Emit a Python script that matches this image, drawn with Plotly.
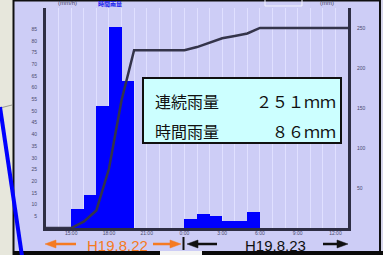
import plotly.graph_objects as go

W, H = 383, 255

# ---- data ----
time_labels = ["13:00", "14:00", "15:00", "16:00", "17:00", "18:00", "19:00", "20:00",
               "21:00", "22:00", "23:00", "0:00", "1:00", "2:00", "3:00", "4:00",
               "5:00", "6:00", "7:00", "8:00", "9:00", "10:00", "11:00", "12:00"]
hourly_rain = [0, 0, 8, 14, 52, 86, 63, 0, 0, 0, 0, 4, 6, 5, 3, 3, 7, 0, 0, 0, 0, 0, 0, 0]
boundary_labels = time_labels + ["13:00"]
cumulative_rain = [0, 0, 0, 8, 22, 74, 160, 223, 223, 223, 223, 223, 227, 233, 238, 241,
                   244, 251, 251, 251, 251, 251, 251, 251, 251]
x_tick_text = ["15:00", "18:00", "21:00", "0:00", "3:00", "6:00", "9:00", "12:00"]
left_ticks = [5, 10, 15, 20, 25, 30, 35, 40, 45, 50, 55, 60, 65, 70, 75, 80, 85]
right_ticks = [50, 100, 150, 200, 250]
total_text = "２５１ｍｍ"
max_text = "８６ｍｍ"
date1 = "H19.8.22"
date2 = "H19.8.23"


def X(px):
    return px / W


def Y(py):
    return 1 - py / H


bar_x = [time_labels.index(t) + 0.5 for t in time_labels]
line_x = list(range(len(boundary_labels)))
tick_vals = [boundary_labels.index(t) for t in x_tick_text]

fig = go.Figure()
fig.add_trace(go.Bar(x=bar_x, y=hourly_rain, width=1, marker=dict(color="#0000ff", line=dict(width=0)),
                     yaxis="y", showlegend=False, hoverinfo="skip"))
fig.add_trace(go.Scatter(x=line_x, y=cumulative_rain, mode="lines", yaxis="y2",
                         line=dict(color="#34344a", width=2.5), showlegend=False, hoverinfo="skip"))

panel = "#cdcdf6"
axis_col = "#2e2e44"
lab_col = "#4a4a6e"

fig.update_layout(
    width=W, height=H, margin=dict(l=0, r=0, t=0, b=0, autoexpand=False),
    paper_bgcolor=panel, plot_bgcolor=panel, bargap=0,
    xaxis=dict(domain=[X(46), X(348)], range=[0, 24], tickmode="array", tickvals=tick_vals,
               ticktext=x_tick_text, tickfont=dict(size=5, color=lab_col, family="Liberation Sans"),
               showline=True, linecolor=axis_col, linewidth=3, showgrid=True, gridcolor="#e0e0ff",
               gridwidth=1, zeroline=False, ticks="", automargin=False, ticklabelstandoff=-2,
               minor=dict(tickmode="linear", tick0=0, dtick=1, showgrid=True, gridcolor="#e0e0ff",
                          gridwidth=1)),
    yaxis=dict(domain=[Y(228), Y(8)], range=[0, 94], tickmode="array", tickvals=left_ticks,
               tickfont=dict(size=5, color=lab_col, family="Liberation Sans"), showline=True,
               linecolor=axis_col, linewidth=3, showgrid=False, zeroline=False, ticks="",
               ticklabelstandoff=5, automargin=False),
    yaxis2=dict(range=[0, 276], overlaying="y", side="right", anchor="x", tickmode="array",
                tickvals=right_ticks, tickfont=dict(size=5, color=lab_col, family="Liberation Sans"),
                showline=True, linecolor=axis_col, linewidth=3, showgrid=False, zeroline=False,
                ticks="", ticklabelstandoff=5, automargin=False),
)

shapes = []
# left map strip
shapes.append(dict(type="rect", xref="paper", yref="paper", x0=X(0), x1=X(13), y0=Y(255), y1=Y(0),
                   fillcolor="#e7e7dc", line=dict(width=0), layer="below"))
shapes.append(dict(type="line", xref="paper", yref="paper", x0=X(0), x1=X(12), y0=Y(108), y1=Y(105),
                   line=dict(color="#9a9a90", width=1)))
shapes.append(dict(type="line", xref="paper", yref="paper", x0=X(13.5), x1=X(13.5), y0=Y(0), y1=Y(255),
                   line=dict(color="#101010", width=2)))
# top and right borders
shapes.append(dict(type="line", xref="paper", yref="paper", x0=X(13), x1=X(381), y0=Y(0.7), y1=Y(0.7),
                   line=dict(color="#101010", width=1.5)))
shapes.append(dict(type="line", xref="paper", yref="paper", x0=X(380), x1=X(380), y0=Y(0), y1=Y(255),
                   line=dict(color="#101010", width=2)))
shapes.append(dict(type="rect", xref="paper", yref="paper", x0=X(381), x1=X(383), y0=Y(255), y1=Y(0),
                   fillcolor="#d6d6ec", line=dict(width=0)))
# bottom strip
shapes.append(dict(type="rect", xref="paper", yref="paper", x0=X(13), x1=X(383), y0=Y(255), y1=Y(251),
                   fillcolor="#0a0a0a", line=dict(width=0)))
shapes.append(dict(type="rect", xref="paper", yref="paper", x0=X(160), x1=X(202), y0=Y(255), y1=Y(251),
                   fillcolor="#f4f4f4", line=dict(width=0)))
# top small legend box
shapes.append(dict(type="rect", xref="paper", yref="paper", x0=X(265), x1=X(302), y0=Y(6), y1=Y(-2),
                   fillcolor="rgba(0,0,0,0)", line=dict(color="#f4f4ff", width=1)))
# info box
shapes.append(dict(type="rect", xref="paper", yref="paper", x0=X(143), x1=X(341), y0=Y(143), y1=Y(78),
                   fillcolor="#ccffff", line=dict(color="#101010", width=2)))


def arrow(x_tail, x_tip, y, color, head=11, half=4, w=2.5):
    d = 1 if x_tip > x_tail else -1
    base = x_tip - d * head
    shapes.append(dict(type="line", xref="paper", yref="paper", x0=X(x_tail), x1=X(base), y0=Y(y),
                       y1=Y(y), line=dict(color=color, width=w)))
    path = "M {} {} L {} {} L {} {} Z".format(X(x_tip), Y(y), X(base), Y(y - half), X(base), Y(y + half))
    shapes.append(dict(type="path", xref="paper", yref="paper", path=path, fillcolor=color,
                       line=dict(color=color, width=0.5)))


orange = "#f57a22"
arrow(76, 45, 244, orange)
arrow(153, 181, 244, orange)
arrow(217, 187, 244, "#101010")
arrow(323, 348, 244, "#101010")
shapes.append(dict(type="line", xref="paper", yref="paper", x0=X(183.5), x1=X(183.5), y0=Y(237), y1=Y(250),
                   line=dict(color="#101010", width=2)))
# blue diagonal map line on top
shapes.append(dict(type="line", xref="paper", yref="paper", x0=X(0), x1=X(22), y0=Y(107), y1=Y(256),
                   line=dict(color="#0000ff", width=4)))
fig.update_layout(shapes=shapes)

jp = "Noto Sans CJK JP"
ann = []
ann.append(dict(x=X(153), y=Y(101), xref="paper", yref="paper", text="連続雨量", showarrow=False,
                xanchor="left", yanchor="middle", font=dict(family=jp, size=16, color="#101010")))
ann.append(dict(x=X(338), y=Y(101), xref="paper", yref="paper", text=total_text, showarrow=False,
                xanchor="right", yanchor="middle", font=dict(family=jp, size=16, color="#101010")))
ann.append(dict(x=X(153), y=Y(131), xref="paper", yref="paper", text="時間雨量", showarrow=False,
                xanchor="left", yanchor="middle", font=dict(family=jp, size=16, color="#101010")))
ann.append(dict(x=X(338), y=Y(131), xref="paper", yref="paper", text=max_text, showarrow=False,
                xanchor="right", yanchor="middle", font=dict(family=jp, size=16, color="#101010")))
ann.append(dict(x=X(117), y=Y(245), xref="paper", yref="paper", text=date1, showarrow=False,
                xanchor="center", yanchor="middle", font=dict(family="Liberation Sans", size=15, color=orange)))
ann.append(dict(x=X(275), y=Y(245), xref="paper", yref="paper", text=date2, showarrow=False,
                xanchor="center", yanchor="middle", font=dict(family="Liberation Sans", size=15, color="#101010")))
# tiny top labels (cut off in the reference)
ann.append(dict(x=X(67), y=Y(3), xref="paper", yref="paper", text="(mm/h)", showarrow=False,
                xanchor="center", yanchor="middle", font=dict(family="Liberation Sans", size=6, color="#3e3e5e")))
ann.append(dict(x=X(110), y=Y(4), xref="paper", yref="paper", text="<b>時間雨量</b>", showarrow=False,
                xanchor="center", yanchor="middle", font=dict(family=jp, size=6, color="#1a1aee")))
ann.append(dict(x=X(327), y=Y(3), xref="paper", yref="paper", text="(mm)", showarrow=False,
                xanchor="center", yanchor="middle", font=dict(family="Liberation Sans", size=6, color="#3e3e5e")))
fig.update_layout(annotations=ann)

fig.write_html("out.html", config={"displayModeBar": False},
               post_script="document.body.style.margin='0px';document.body.style.overflow='hidden';")
